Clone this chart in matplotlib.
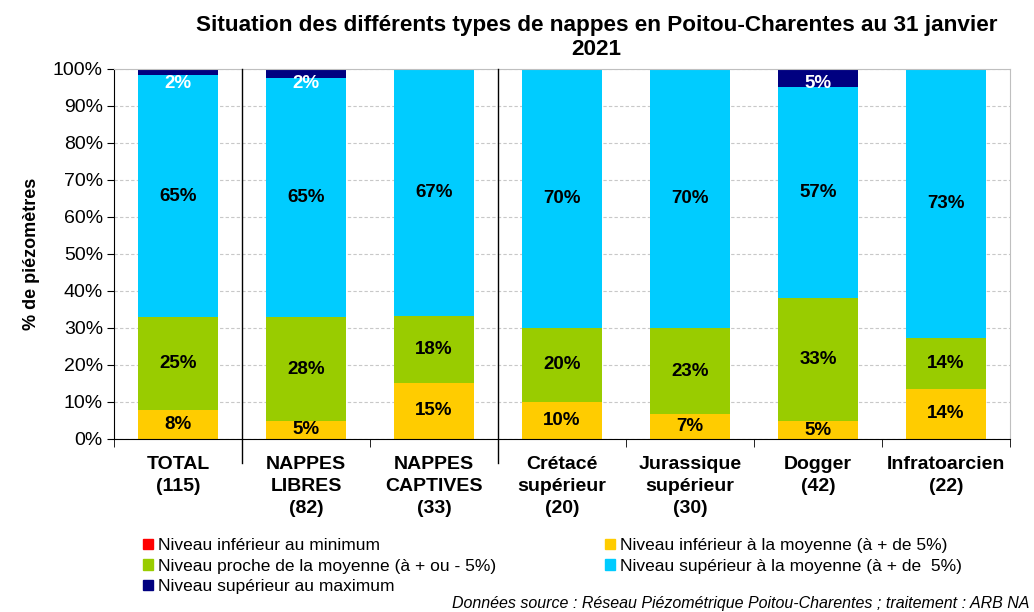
import matplotlib.pyplot as plt
import numpy as np
from matplotlib.patches import Patch

plt.rcParams["font.family"] = ["Liberation Sans", "DejaVu Sans"]

categories = ["TOTAL\n(115)", "NAPPES\nLIBRES\n(82)", "NAPPES\nCAPTIVES\n(33)",
              "Crétacé\nsupérieur\n(20)", "Jurassique\nsupérieur\n(30)",
              "Dogger\n(42)", "Infratoarcien\n(22)"]

# number of piezometers per class
below_min = [0, 0, 0, 0, 0, 0, 0]
below_mean = [9, 4, 5, 2, 2, 2, 3]
near_mean = [29, 23, 6, 4, 7, 14, 3]
above_mean = [75, 53, 22, 14, 21, 24, 16]
above_max = [2, 2, 0, 0, 0, 2, 0]

names = ["Niveau inférieur au minimum",
         "Niveau inférieur à la moyenne (à + de 5%)",
         "Niveau proche de la moyenne (à + ou - 5%)",
         "Niveau supérieur à la moyenne (à + de  5%)",
         "Niveau supérieur au maximum"]
colors = ["#FF0000", "#FFCC00", "#99CC00", "#00CCFF", "#000080"]

series = np.array([below_min, below_mean, near_mean, above_mean, above_max], dtype=float)
pct = series / series.sum(axis=0) * 100

fig = plt.figure(figsize=(10.34, 6.12), dpi=100)
ax = fig.add_axes([0.1103, 0.2827, 0.8665, 0.6046])

x = np.arange(len(categories))
bottom = np.zeros(len(categories))
for i in range(5):
    ax.bar(x, pct[i], 0.62, bottom=bottom, color=colors[i], zorder=2)
    for j in range(len(categories)):
        v = pct[i][j]
        if v < 0.5:
            continue
        yc = bottom[j] + v / 2
        col = "black"
        if i == 4:
            yc = min(yc, 96.2)
            col = "white"
        ax.text(x[j], yc, f"{v:.0f}%", ha="center", va="center",
                fontsize=13.5, fontweight="bold", color=col, zorder=3)
    bottom += pct[i]

ax.set_xlim(-0.5, len(categories) - 0.5)
ax.set_ylim(0, 100)
ax.set_yticks(np.arange(0, 101, 10))
ax.set_yticklabels([f"{t}%" for t in range(0, 101, 10)], fontsize=14)
ax.set_xticks(x)
ax.set_xticklabels(categories, fontsize=14, fontweight="bold", linespacing=1.38)
ax.set_xticks(np.arange(-0.5, len(categories), 1), minor=True)
ax.tick_params(axis="x", which="major", length=0, pad=12)
ax.tick_params(axis="x", which="minor", length=6, direction="out")
ax.tick_params(axis="y", length=5, pad=3)
ax.yaxis.grid(True, linestyle=(0, (3, 2)), color="#C8C8C8", linewidth=0.8, zorder=0)
ax.set_axisbelow(True)

for s in ["top", "right"]:
    ax.spines[s].set_color("#BFBFBF")
ax.spines["left"].set_color("black")
ax.spines["bottom"].set_color("black")

# separators between groups
for sep in [0.5, 2.5]:
    ax.plot([sep, sep], [-0.065, 1], transform=ax.get_xaxis_transform(),
            color="black", linewidth=1, clip_on=False, zorder=4)

ax.set_ylabel("% de piézomètres", fontsize=13, fontweight="bold", labelpad=9)

fig.text(0.577, 0.975, "Situation des différents types de nappes en Poitou-Charentes au 31 janvier\n2021",
         ha="center", va="top", fontsize=16.2, fontweight="bold", linespacing=1.15)

handles = [Patch(color=c) for c in colors]
order = [0, 2, 4, 1, 3]
fig.legend([handles[k] for k in order], [names[k] for k in order], ncol=2,
           loc="upper left", bbox_to_anchor=(0.13, 0.135), frameon=False,
           fontsize=12.5, handlelength=0.55, handleheight=0.55, handletextpad=0.3,
           labelspacing=0.32, columnspacing=6.3, borderpad=0)

fig.text(0.996, 0.002, "Données source : Réseau Piézométrique Poitou-Charentes ; traitement : ARB NA",
         ha="right", va="bottom", fontsize=11.5, style="italic")

fig.savefig("out.png", dpi=100)
